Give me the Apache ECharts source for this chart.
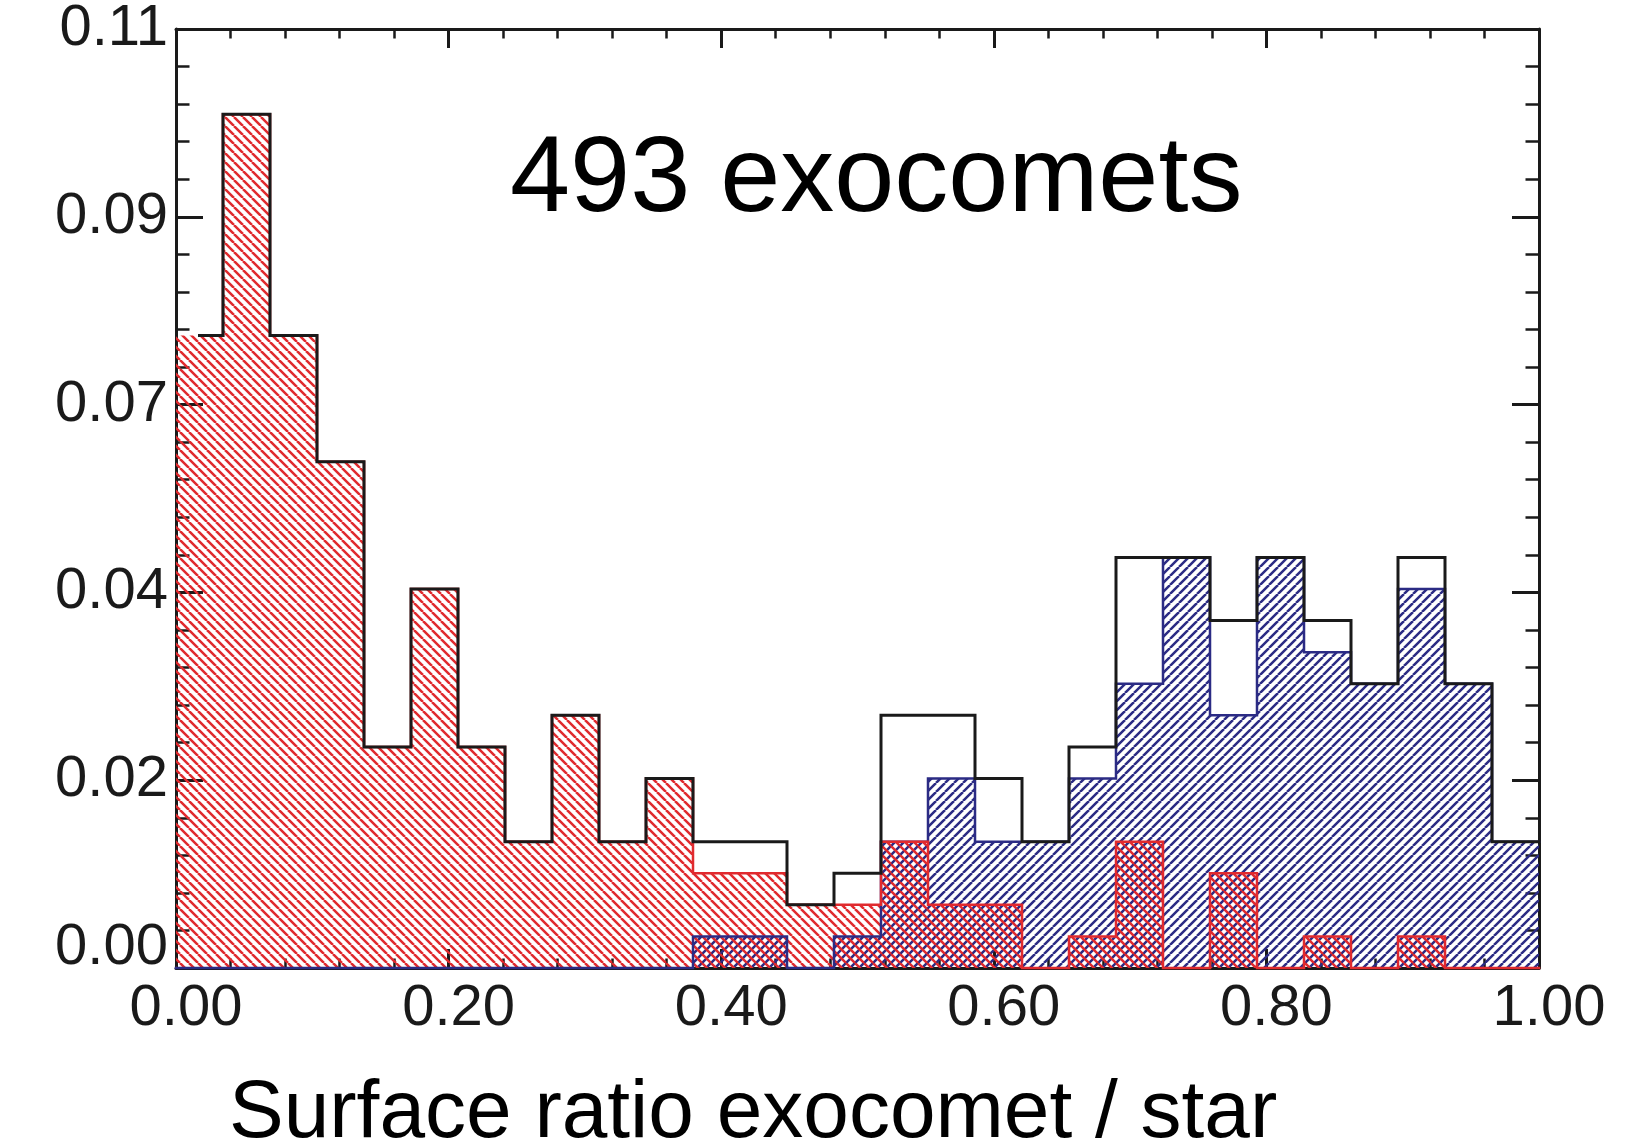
<!DOCTYPE html>
<html>
<head>
<meta charset="utf-8">
<title>493 exocomets</title>
<script src="https://cdn.jsdelivr.net/npm/echarts@6/dist/echarts.min.js"></script>
<style>
  html, body { margin: 0; padding: 0; background: #fff; }
  #chart { width: 1639px; height: 1145px; }
</style>
</head>
<body>
<div id="chart"></div>
<script>
// 29 equal bins between 0 and 1
const binCount = 29
const xMin = 0
const xMax = 1

// all exocomets (black outline)
const totalValues = [0.0741, 0.1000, 0.0741, 0.0593, 0.0259, 0.0444, 0.0259, 0.0148, 0.0296, 0.0148,
  0.0222, 0.0148, 0.0148, 0.0074, 0.0111, 0.0296, 0.0296, 0.0222, 0.0148, 0.0259,
  0.0481, 0.0481, 0.0407, 0.0481, 0.0407, 0.0333, 0.0481, 0.0333, 0.0148]
// red hatched group
const redValues = [0.0741, 0.1000, 0.0741, 0.0593, 0.0259, 0.0444, 0.0259, 0.0148, 0.0296, 0.0148,
  0.0222, 0.0111, 0.0111, 0.0074, 0.0074, 0.0148, 0.0074, 0.0074, 0, 0.0037,
  0.0148, 0, 0.0111, 0, 0.0037, 0, 0.0037, 0, 0]
// blue hatched group
const blueValues = [0, 0, 0, 0, 0, 0, 0, 0, 0, 0,
  0, 0.0037, 0.0037, 0, 0.0037, 0.0148, 0.0222, 0.0148, 0.0148, 0.0222,
  0.0333, 0.0481, 0.0296, 0.0481, 0.0370, 0.0333, 0.0444, 0.0333, 0.0148]

const xTickLabels = ['0.00', '0.20', '0.40', '0.60', '0.80', '1.00']
const yTickLabels = ['0.00', '0.02', '0.04', '0.07', '0.09', '0.11']
const xStep = 0.2
const yStep = 0.022
const yMax = 0.11

const red = '#e02a2e'
const blue = '#2b2b84'
const axisColor = '#1a1a1a'
const fontFamily = "'Liberation Sans', Arial, Helvetica, sans-serif"

const binWidth = (xMax - xMin) / binCount

// histogram outline as step points (left edge of each bin + right end)
function stepPoints(values, startX) {
  const pts = values.map((v, i) => [xMin + i * binWidth, v])
  pts[0][0] = startX
  pts.push([xMax, values[values.length - 1]])
  return pts
}

// diagonal hatch tile, dir 1 = "\" , dir -1 = "/"
function hatch(color, dir) {
  const s = 9
  const c = document.createElement('canvas')
  c.width = s
  c.height = s
  const g = c.getContext('2d')
  g.strokeStyle = color
  g.lineWidth = 2.5
  g.beginPath()
  for (const k of [-1, 0, 1]) {
    if (dir > 0) {
      g.moveTo(k * s, 0)
      g.lineTo(k * s + s, s)
    } else {
      g.moveTo(k * s, s)
      g.lineTo(k * s + s, 0)
    }
  }
  g.stroke()
  return { image: c, repeat: 'repeat' }
}

const labelStyle = { fontFamily, fontSize: 58, color: axisColor, lineHeight: 40 }

function xAxisOpt(pos) {
  return {
    type: 'value', position: pos, min: xMin, max: xMax, interval: xStep,
    axisLine: { show: true, onZero: false, lineStyle: { color: axisColor, width: 3 } },
    axisTick: { show: true, inside: true, length: 19, lineStyle: { color: axisColor, width: 3 } },
    minorTick: { show: true, splitNumber: 5, length: 9.5, lineStyle: { color: axisColor, width: 2.5 } },
    splitLine: { show: false },
    axisLabel: pos === 'bottom'
      ? { ...labelStyle, margin: 21, padding: [0, 0, 0, 20], formatter: v => xTickLabels[Math.round(v / xStep)] }
      : { show: false }
  }
}

function yAxisOpt(pos) {
  return {
    type: 'value', position: pos, min: 0, max: yMax, interval: yStep,
    axisLine: { show: true, onZero: false, lineStyle: { color: axisColor, width: 3 } },
    axisTick: { show: true, inside: true, length: 27, lineStyle: { color: axisColor, width: 3 } },
    minorTick: { show: true, splitNumber: 5, length: 13.5, lineStyle: { color: axisColor, width: 2.5 } },
    splitLine: { show: false },
    axisLabel: pos === 'left'
      ? { ...labelStyle, margin: 8, verticalAlignMinLabel: 'bottom', formatter: v => yTickLabels[Math.round(v / yStep)] }
      : { show: false }
  }
}

function fillSeries(name, values, color, dir, z) {
  return {
    name, type: 'line', step: 'end', z, clip: false,
    data: stepPoints(values, xMin),
    symbol: 'none',
    lineStyle: { width: 0, opacity: 0 },
    areaStyle: { color: hatch(color, dir), opacity: 1 }
  }
}

function outlineSeries(name, values, color, width, startX, z) {
  return {
    name, type: 'line', step: 'end', z, clip: false,
    data: stepPoints(values, startX),
    symbol: 'none',
    lineStyle: { color, width, cap: 'square', join: 'miter' }
  }
}

const chart = echarts.init(document.getElementById('chart'))

chart.setOption({
  backgroundColor: '#fff',
  animation: false,
  grid: { left: 176, right: 100, top: 29, bottom: 177, containLabel: false },
  xAxis: [xAxisOpt('bottom'), xAxisOpt('top')],
  yAxis: [yAxisOpt('left'), yAxisOpt('right')],
  series: [
    fillSeries('blue fill', blueValues, blue, -1, 2),
    fillSeries('red fill', redValues, red, 1, 3),
    outlineSeries('blue', blueValues, blue, 2.5, xMin, 4),
    outlineSeries('red', redValues, red, 2.5, xMin + binWidth / 2, 5),
    outlineSeries('total', totalValues, axisColor, 3, xMin + binWidth / 2, 6)
  ],
  graphic: [
    {
      type: 'text', left: 510, top: 127,
      style: { text: '493 exocomets', font: '108px ' + fontFamily, fill: '#000' }
    },
    {
      type: 'text', left: 229, top: 1073,
      style: { text: 'Surface ratio exocomet / star', font: '82px ' + fontFamily, fill: '#000' }
    }
  ]
})
</script>
</body>
</html>
